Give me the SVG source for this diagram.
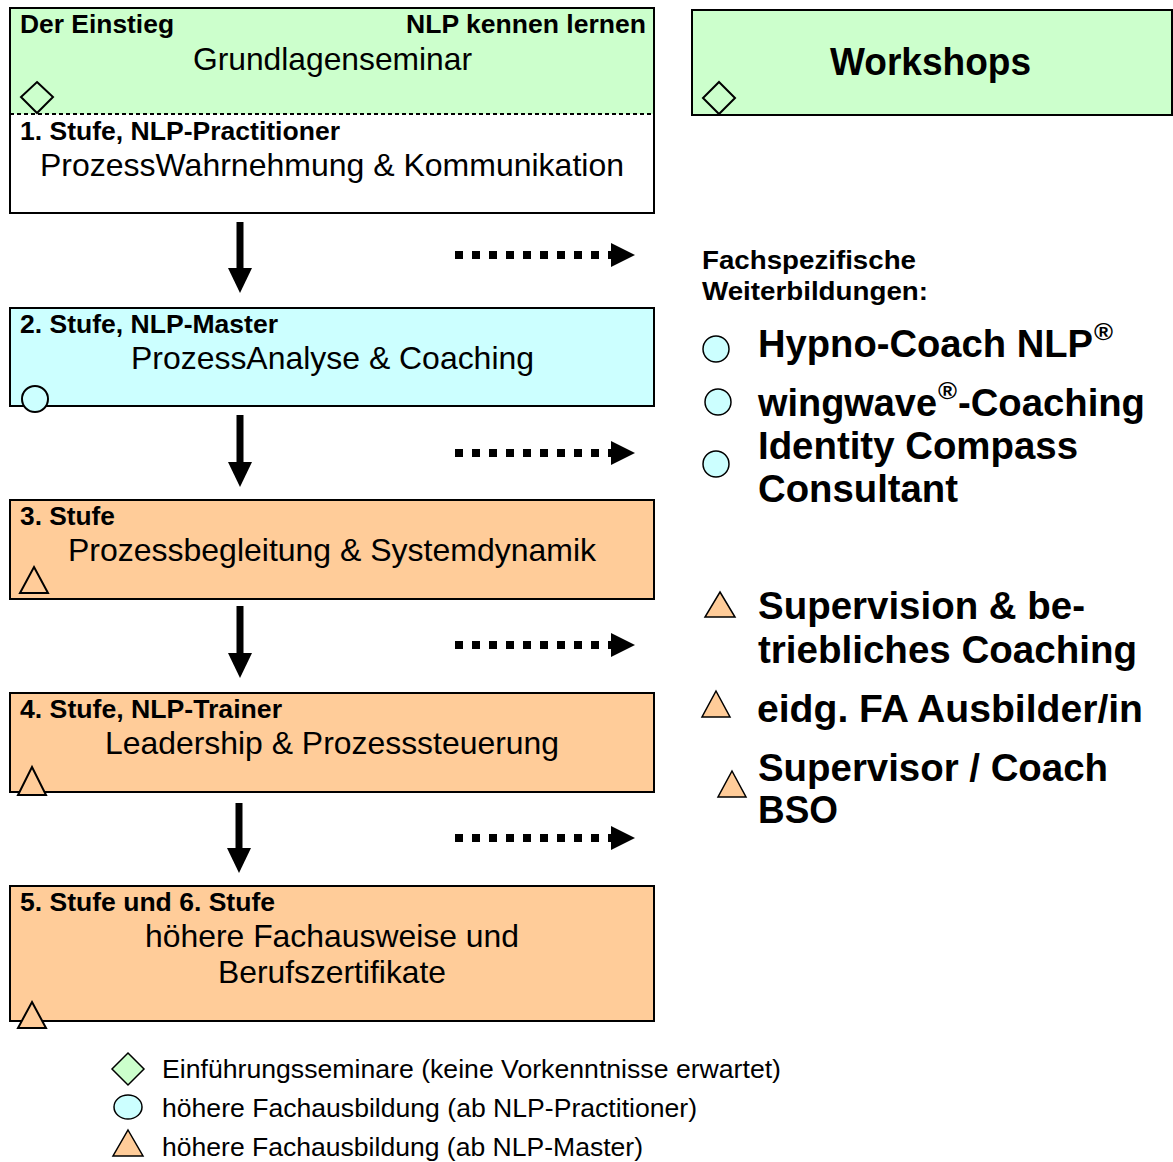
<svg xmlns="http://www.w3.org/2000/svg" width="1173" height="1162" viewBox="0 0 1173 1162">
<style>
text{font-family:"Liberation Sans",Arial,sans-serif;fill:#000}
.h{font-weight:bold;font-size:25px}
.m{font-size:32px}
.big{font-weight:bold;font-size:38px}
.sup{font-weight:bold;font-size:23px}
.lg{font-size:26px}
.box{stroke:#000;stroke-width:2}
.sym{stroke:#000;stroke-width:2}
.green{fill:#CCFFCC}
.cyan{fill:#CCFFFF}
.orange{fill:#FFCC99}
.dot{stroke:#000;stroke-width:8;stroke-dasharray:8 9;fill:none}
.shaft{stroke:#000;stroke-width:7;fill:none}
</style>
<g id="stufe1">
<rect x="10" y="8" width="644" height="106" class="green"/>
<rect x="10" y="114" width="644" height="99" fill="#fff"/>
<rect x="10" y="8" width="644" height="205" fill="none" class="box"/>
<line x1="10" y1="114" x2="654" y2="114" stroke="#000" stroke-width="2" stroke-dasharray="4 3"/>
<polygon points="37,82 53,97 37,113 21,97" fill="none" class="sym"/>
<text class="h" x="20" y="33" textLength="154" lengthAdjust="spacingAndGlyphs">Der Einstieg</text>
<text class="h" x="406" y="33" textLength="240" lengthAdjust="spacingAndGlyphs">NLP kennen lernen</text>
<text class="m" x="193" y="70" textLength="279" lengthAdjust="spacingAndGlyphs">Grundlagenseminar</text>
<text class="h" x="20" y="140" textLength="320" lengthAdjust="spacingAndGlyphs">1. Stufe, NLP-Practitioner</text>
<text class="m" x="40" y="176" textLength="584" lengthAdjust="spacingAndGlyphs">ProzessWahrnehmung &amp; Kommunikation</text>
</g>
<g id="workshops">
<rect x="692" y="10" width="480" height="105" class="green box"/>
<polygon points="719,82 735,98 719,114 703,98" fill="none" class="sym"/>
<text class="big" x="830" y="75" textLength="201" lengthAdjust="spacingAndGlyphs">Workshops</text>
</g>
<g id="stufe2">
<rect x="10" y="308" width="644" height="98" class="cyan box"/>
<circle cx="35" cy="399" r="13" class="cyan sym"/>
<text class="h" x="20" y="333" textLength="258" lengthAdjust="spacingAndGlyphs">2. Stufe, NLP-Master</text>
<text class="m" x="131" y="369" textLength="403" lengthAdjust="spacingAndGlyphs">ProzessAnalyse &amp; Coaching</text>
</g>
<g id="stufe3">
<rect x="10" y="500" width="644" height="99" class="orange box"/>
<polygon points="34,567 48,593 20,593" class="orange sym"/>
<text class="h" x="20" y="525" textLength="95" lengthAdjust="spacingAndGlyphs">3. Stufe</text>
<text class="m" x="68" y="561" textLength="528" lengthAdjust="spacingAndGlyphs">Prozessbegleitung &amp; Systemdynamik</text>
</g>
<g id="stufe4">
<rect x="10" y="693" width="644" height="99" class="orange box"/>
<polygon points="32,767 46,795 18,795" class="orange sym"/>
<text class="h" x="20" y="718" textLength="262" lengthAdjust="spacingAndGlyphs">4. Stufe, NLP-Trainer</text>
<text class="m" x="105" y="754" textLength="454" lengthAdjust="spacingAndGlyphs">Leadership &amp; Prozesssteuerung</text>
</g>
<g id="stufe5">
<rect x="10" y="886" width="644" height="135" class="orange box"/>
<polygon points="32,1002 46,1028 18,1028" class="orange sym"/>
<text class="h" x="20" y="911" textLength="255" lengthAdjust="spacingAndGlyphs">5. Stufe und 6. Stufe</text>
<text class="m" x="145" y="947" textLength="374" lengthAdjust="spacingAndGlyphs">höhere Fachausweise und</text>
<text class="m" x="218" y="983" textLength="228" lengthAdjust="spacingAndGlyphs">Berufszertifikate</text>
</g>
<g id="connectors">
<line x1="240" y1="222" x2="240" y2="270" class="shaft"/>
<polygon points="228,268 252,268 240,293"/>
<line x1="240" y1="415" x2="240" y2="464" class="shaft"/>
<polygon points="228,462 252,462 240,487"/>
<line x1="240" y1="606" x2="240" y2="655" class="shaft"/>
<polygon points="228,653 252,653 240,678"/>
<line x1="239" y1="803" x2="239" y2="850" class="shaft"/>
<polygon points="227,848 251,848 239,873"/>
<line x1="455" y1="255" x2="612" y2="255" class="dot"/>
<polygon points="611,243 635,255 611,267"/>
<line x1="455" y1="453" x2="612" y2="453" class="dot"/>
<polygon points="611,441 635,453 611,465"/>
<line x1="455" y1="645" x2="612" y2="645" class="dot"/>
<polygon points="611,633 635,645 611,657"/>
<line x1="455" y1="838" x2="612" y2="838" class="dot"/>
<polygon points="611,826 635,838 611,850"/>
</g>
<g id="weiterbildungen">
<text class="h" x="702" y="269" textLength="214" lengthAdjust="spacingAndGlyphs">Fachspezifische</text>
<text class="h" x="702" y="300" textLength="226" lengthAdjust="spacingAndGlyphs">Weiterbildungen:</text>
<circle cx="716" cy="349" r="13" class="cyan" stroke="#000" stroke-width="1.5"/>
<text class="big" x="758" y="357" textLength="335" lengthAdjust="spacingAndGlyphs">Hypno-Coach NLP</text>
<text class="sup" x="1094" y="340" textLength="19" lengthAdjust="spacingAndGlyphs">®</text>
<circle cx="718" cy="402" r="13" class="cyan" stroke="#000" stroke-width="1.5"/>
<text class="big" x="758" y="416" textLength="179" lengthAdjust="spacingAndGlyphs">wingwave</text>
<text class="sup" x="938" y="399" textLength="19" lengthAdjust="spacingAndGlyphs">®</text>
<text class="big" x="958" y="416" textLength="187" lengthAdjust="spacingAndGlyphs">-Coaching</text>
<circle cx="716" cy="464" r="13" class="cyan" stroke="#000" stroke-width="1.5"/>
<text class="big" x="758" y="459" textLength="320" lengthAdjust="spacingAndGlyphs">Identity Compass</text>
<text class="big" x="758" y="502" textLength="200" lengthAdjust="spacingAndGlyphs">Consultant</text>
<polygon points="720,592 735,617 705,617" class="orange" stroke="#000" stroke-width="1.5"/>
<text class="big" x="758" y="619" textLength="327" lengthAdjust="spacingAndGlyphs">Supervision &amp; be-</text>
<text class="big" x="758" y="663" textLength="379" lengthAdjust="spacingAndGlyphs">triebliches Coaching</text>
<polygon points="716,691 730,717 702,717" class="orange" stroke="#000" stroke-width="1.5"/>
<text class="big" x="757" y="722" textLength="386" lengthAdjust="spacingAndGlyphs">eidg. FA Ausbilder/in</text>
<polygon points="732,771 746,797 718,797" class="orange" stroke="#000" stroke-width="1.5"/>
<text class="big" x="758" y="781" textLength="350" lengthAdjust="spacingAndGlyphs">Supervisor / Coach</text>
<text class="big" x="758" y="823" textLength="80" lengthAdjust="spacingAndGlyphs">BSO</text>
</g>
<g id="legende">
<polygon points="128,1053 144,1069 128,1085 112,1069" class="green" stroke="#000" stroke-width="1.5"/>
<text class="lg" x="162" y="1078" textLength="619" lengthAdjust="spacingAndGlyphs">Einführungsseminare (keine Vorkenntnisse erwartet)</text>
<ellipse cx="128" cy="1107" rx="14" ry="12" class="cyan" stroke="#000" stroke-width="1.5"/>
<text class="lg" x="162" y="1117" textLength="535" lengthAdjust="spacingAndGlyphs">höhere Fachausbildung (ab NLP-Practitioner)</text>
<polygon points="128,1130 143,1156 113,1156" class="orange" stroke="#000" stroke-width="1.5"/>
<text class="lg" x="162" y="1156" textLength="481" lengthAdjust="spacingAndGlyphs">höhere Fachausbildung (ab NLP-Master)</text>
</g>
</svg>
